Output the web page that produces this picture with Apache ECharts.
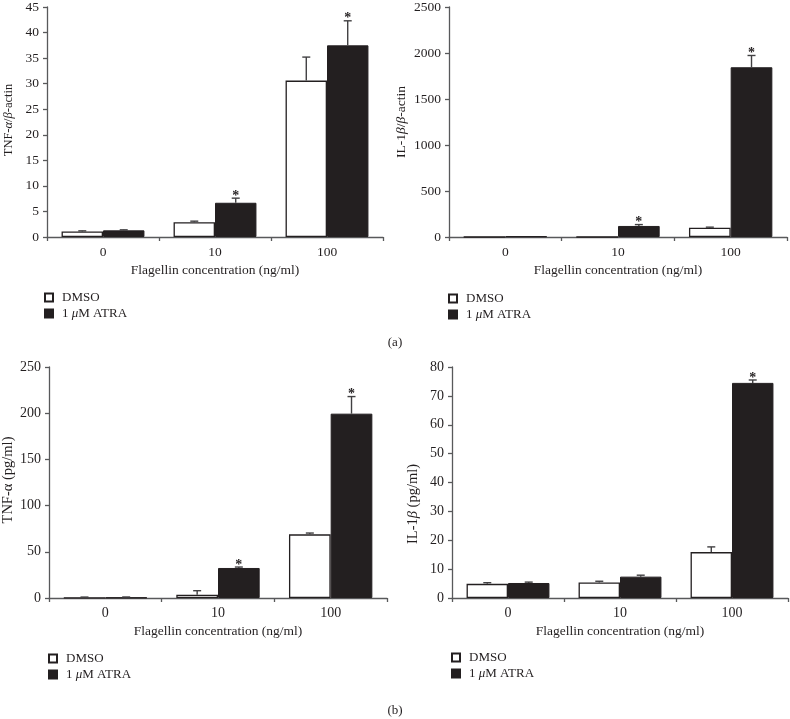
<!DOCTYPE html>
<html>
<head>
<meta charset="utf-8">
<script src="https://cdn.jsdelivr.net/npm/echarts@6/dist/echarts.min.js"></script>
<style>
html,body{margin:0;padding:0;background:#fff;}
#chart{width:790px;height:719px;}
</style>
</head>
<body>
<div id="chart"></div>
<script>
// ---- data ----
const categories = ['0', '10', '100'];

// (a) left: TNF-α/β-actin
const a1Dmso = [1.1, 2.9, 30.6];
const a1DmsoErr = [0.1, 0.2, 4.6];
const a1Atra = [1.3, 6.7, 37.5];
const a1AtraErr = [0.1, 0.9, 4.8];
const a1Stars = [0, 1, 1];

// (a) right: IL-1β/β-actin
const a2Dmso = [0, 0, 101];
const a2DmsoErr = [0, 0, 6];
const a2Atra = [8, 120, 1845];
const a2AtraErr = [0, 15, 128];
const a2Stars = [0, 1, 1];

// (b) left: TNF-α (pg/ml)
const b1Dmso = [0.3, 3.6, 68.9];
const b1DmsoErr = [0.7, 4.3, 1.4];
const b1Atra = [0.5, 32.5, 199.5];
const b1AtraErr = [0.6, 1.0, 18.5];
const b1Stars = [0, 1, 1];

// (b) right: IL-1β (pg/ml)
const b2Dmso = [4.9, 5.4, 15.9];
const b2DmsoErr = [0.4, 0.4, 1.8];
const b2Atra = [5.2, 7.4, 74.5];
const b2AtraErr = [0.3, 0.5, 1.0];
const b2Stars = [0, 0, 1];

const yMax = [45, 2500, 250, 80];
const yInterval = [5, 500, 50, 10];

const DMSO = 'DMSO';
const ATRA = '1 μM ATRA';

// ---- style ----
const FONT = '"Liberation Serif", "DejaVu Serif", serif';
const TXT = '#231f20';
const AXIS = '#58595b';
const CAT_GAP = 0.26;

const grids = [
  {left: 47, top: 5, width: 336, height: 232},
  {left: 449, top: 5, width: 338, height: 232},
  {left: 49, top: 367, width: 338, height: 231},
  {left: 452, top: 367, width: 336, height: 231}
];
const tickFont = [13.5, 13.5, 14, 14];

const panels = [
  [a1Dmso, a1DmsoErr, a1Atra, a1AtraErr, a1Stars],
  [a2Dmso, a2DmsoErr, a2Atra, a2AtraErr, a2Stars],
  [b1Dmso, b1DmsoErr, b1Atra, b1AtraErr, b1Stars],
  [b2Dmso, b2DmsoErr, b2Atra, b2AtraErr, b2Stars]
];

const xAxes = [], yAxes = [], series = [];
grids.forEach((g, i) => {
  xAxes.push({
    type: 'category', gridIndex: i, data: categories,
    name: 'Flagellin concentration (ng/ml)', nameLocation: 'middle', nameGap: 26,
    nameTextStyle: {fontFamily: FONT, fontSize: 13.5, color: TXT},
    axisLine: {lineStyle: {color: AXIS, width: 1.3}},
    axisTick: {show: true, length: 4, lineStyle: {color: AXIS, width: 1.3}},
    axisLabel: {fontFamily: FONT, fontSize: tickFont[i], color: TXT, margin: 8},
    splitLine: {show: false}
  });
  yAxes.push({
    type: 'value', gridIndex: i, min: 0, max: yMax[i], interval: yInterval[i],
    axisLine: {show: true, lineStyle: {color: AXIS, width: 1.3}},
    axisTick: {show: true, length: 4, lineStyle: {color: AXIS, width: 1.3}},
    axisLabel: {fontFamily: FONT, fontSize: tickFont[i], color: TXT, margin: 8,
      formatter: function (v) { return String(v); }},
    splitLine: {show: false}
  });
  const p = panels[i];
  series.push({
    type: 'bar', name: DMSO, xAxisIndex: i, yAxisIndex: i, data: p[0],
    barGap: '0%', barCategoryGap: (CAT_GAP * 100) + '%',
    itemStyle: {color: '#ffffff', borderColor: TXT, borderWidth: 1.3},
    emphasis: {disabled: true}, animation: false
  });
  series.push({
    type: 'bar', name: ATRA, xAxisIndex: i, yAxisIndex: i, data: p[2],
    barGap: '0%', barCategoryGap: (CAT_GAP * 100) + '%',
    itemStyle: {color: TXT, borderColor: TXT, borderWidth: 1},
    emphasis: {disabled: true}, animation: false
  });
  const errData = [];
  categories.forEach((c, k) => {
    errData.push([k, p[0][k], p[1][k], -1, 0]);
    errData.push([k, p[2][k], p[3][k], 1, p[4][k]]);
  });
  series.push({
    type: 'custom', xAxisIndex: i, yAxisIndex: i, data: errData, z: 5,
    animation: false, silent: true,
    renderItem: function (params, api) {
      const k = api.value(0), v = api.value(1), e = api.value(2), side = api.value(3), star = api.value(4);
      const base = api.coord([k, v]);
      const top = api.coord([k, v + e]);
      const band = api.size([1, 0])[0];
      const bw = band * (1 - CAT_GAP) / 2;
      const x = base[0] + side * bw / 2;
      const ls = {stroke: '#414042', lineWidth: 1.4};
      const children = [];
      if (e > 0) {
        children.push({type: 'line', shape: {x1: x, y1: base[1], x2: x, y2: top[1]}, style: ls});
        children.push({type: 'line', shape: {x1: x - 4, y1: top[1], x2: x + 4, y2: top[1]}, style: ls});
      }
      if (star) {
        children.push({type: 'text', x: x, y: top[1] + 5,
          style: {text: '*', fill: TXT, font: 'bold 14px ' + FONT, textAlign: 'center', textVerticalAlign: 'bottom'}});
      }
      return {type: 'group', children: children};
    }
  });
});

const legendBase = {
  orient: 'vertical', data: [DMSO, ATRA], icon: 'rect', itemWidth: 8, itemHeight: 8, itemGap: 3,
  padding: 0, selectedMode: false,
  textStyle: {fontFamily: FONT, fontSize: 13, color: TXT, lineHeight: 13, padding: [0, 0, 0, 4],
    rich: {i: {fontFamily: FONT, fontSize: 13, color: TXT, fontStyle: 'italic'}}},
  formatter: function (n) { return n === ATRA ? '1 {i|μ}M ATRA' : n; }
};
const legends = [
  Object.assign({}, legendBase, {left: 44, top: 291}),
  Object.assign({}, legendBase, {left: 448, top: 292}),
  Object.assign({}, legendBase, {left: 48, top: 652}),
  Object.assign({}, legendBase, {left: 451, top: 651})
];

function yTitle(x, y, text, size) {
  const rich = {i: {fontStyle: 'italic', fontFamily: FONT, fontSize: size, fill: TXT}};
  return {type: 'text', x: x, y: y, rotation: Math.PI / 2,
    style: {text: text, fill: TXT, font: size + 'px ' + FONT, textAlign: 'center', textVerticalAlign: 'middle', rich: rich}};
}

const option = {
  backgroundColor: '#ffffff',
  animation: false,
  grid: grids,
  xAxis: xAxes,
  yAxis: yAxes,
  legend: legends,
  series: series,
  graphic: [
    yTitle(9, 120, 'TNF-{i|α}/{i|β}-actin', 12.5),
    yTitle(401, 122, 'IL-1{i|β}/{i|β}-actin', 13.5),
    yTitle(8, 480, 'TNF-α (pg/ml)', 14.5),
    yTitle(413, 504, 'IL-1{i|β} (pg/ml)', 14.5),
    {type: 'text', x: 395, y: 343, style: {text: '(a)', fill: TXT, font: '13px ' + FONT, textAlign: 'center', textVerticalAlign: 'middle'}},
    {type: 'text', x: 395, y: 711, style: {text: '(b)', fill: TXT, font: '13px ' + FONT, textAlign: 'center', textVerticalAlign: 'middle'}}
  ]
};

const chart = echarts.init(document.getElementById('chart'), null, {renderer: 'canvas'});
chart.setOption(option);
</script>
</body>
</html>
